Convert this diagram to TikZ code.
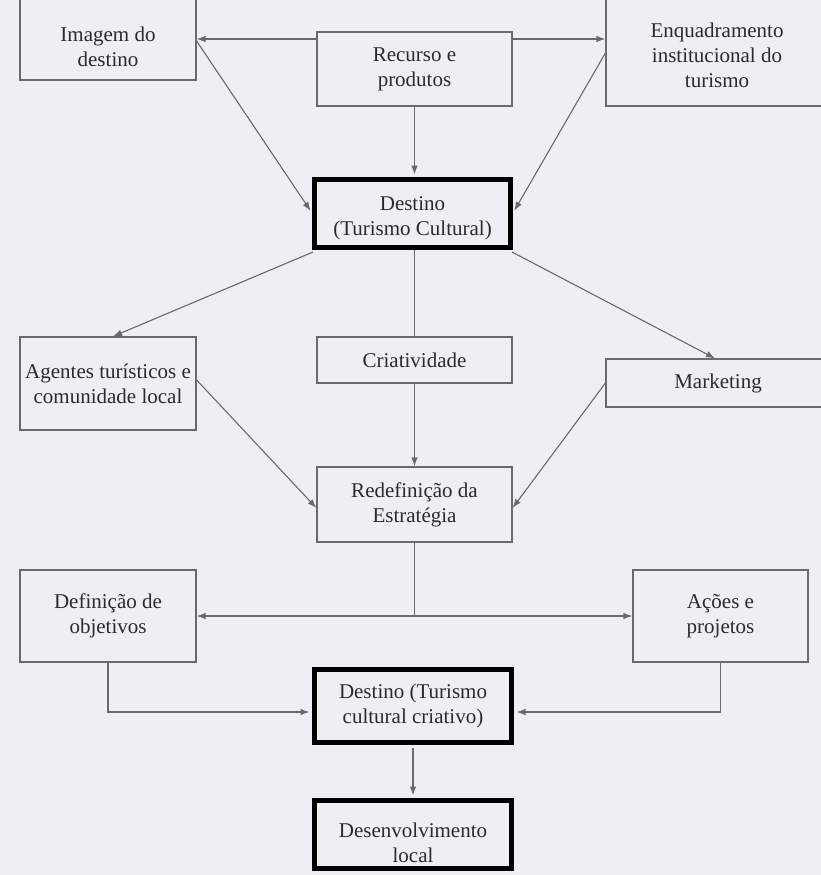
\documentclass[tikz,border=0pt]{standalone}
\usepackage{fontspec}
\setmainfont{Liberation Serif}
\usetikzlibrary{arrows.meta}
\definecolor{bgc}{RGB}{237,239,245}
\definecolor{linec}{RGB}{105,105,110}
\definecolor{textc}{RGB}{42,42,48}
\begin{document}
\begin{tikzpicture}[x=1pt,y=-1pt,
  box/.style={draw=linec, line width=1.2pt, fill=bgc, inner sep=0pt, text=textc, font=\fontsize{21}{25}\selectfont, align=center},
  thickbox/.style={box, draw=black, line width=5pt},
  txt/.style={text=textc, font=\fontsize{21}{25}\selectfont, align=center, inner sep=0pt},
  arr/.style={draw=linec, line width=1.1pt, -{Latex[length=9pt,width=6.5pt]}},
  ln/.style={draw=linec, line width=1.1pt}]
\clip (0,0) rectangle (821,875);
\fill[bgc] (0,0) rectangle (821,875);

% boxes
\node[box, minimum width=176pt, minimum height=100pt] (img) at (108,30) {};
\node[txt] (imgt) at (108,47) {Imagem do\\destino};
\node[box, minimum width=195pt, minimum height=74pt] (rec) at (414.5,69) {Recurso e\\produtos};
\node[box, minimum width=230pt, minimum height=126pt] (enq) at (721,43) {};
\node[txt] (enqt) at (717,55) {Enquadramento\\institucional do\\turismo};
\node[thickbox, minimum width=196pt, minimum height=68pt] (d1) at (412.5,213.5) {};
\node[txt] (d1t) at (412.5,218) {Destino\\(Turismo Cultural)};
\node[box, minimum width=176pt, minimum height=93pt] (agt) at (108,383.5) {Agentes turísticos e\\comunidade local};
\node[box, minimum width=195pt, minimum height=46pt] (cri) at (414.5,360) {Criatividade};
\node[box, minimum width=230pt, minimum height=48pt] (mkt) at (721,383) {};
\node[txt] (mktt) at (718,383) {Marketing};
\node[box, minimum width=195pt, minimum height=75pt] (red) at (414.5,504.5) {Redefinição da\\Estratégia};
\node[box, minimum width=176pt, minimum height=92pt] (def) at (108,616) {Definição de\\objetivos};
\node[box, minimum width=175pt, minimum height=92pt] (aco) at (720.5,616) {Ações e\\projetos};
\node[thickbox, minimum width=197pt, minimum height=73pt] (d2) at (413,706) {Destino (Turismo\\cultural criativo)};
\node[thickbox, minimum width=197pt, minimum height=68pt] (dev) at (413,834.5) {};
\node[txt] (devt) at (413,843) {Desenvolvimento\\local};

% helper levels
\coordinate (ya) at (0,39);
\coordinate (yb) at (0,41);
\coordinate (yc) at (0,213);
\coordinate (yd) at (0,53);
\coordinate (ye) at (0,380);
\coordinate (yf) at (0,508);
\coordinate (yg) at (0,383);
\coordinate (yh) at (0,712);
\coordinate (j) at (414.5,616);

% connectors
\draw[arr] (rec.west |- ya) -- (img.east |- ya);
\draw[arr] (rec.east |- ya) -- (enq.west |- ya);
\draw[arr, shorten >=2.5pt] (rec.south) -- (rec.south |- d1.north);
\draw[arr, shorten >=2.5pt] (img.east |- yb) -- (d1.west |- yc);
\draw[arr, shorten >=2.5pt] (enq.west |- yd) -- (d1.east |- yc);
\draw[arr] ([xshift=1pt,yshift=-2pt]d1.south west) -- ([xshift=5pt]agt.north);
\draw[ln] (cri.north |- d1.south) -- (cri.north);
\draw[arr] ([xshift=-1pt,yshift=-2pt]d1.south east) -- ([xshift=-6pt]mkt.north);
\draw[arr] (cri.south) -- (red.north);
\draw[arr] (agt.east |- ye) -- (red.west |- yf);
\draw[arr] (mkt.west |- yg) -- (red.east |- yf);
\draw[ln] (red.south) -- (j);
\draw[arr] (j) -- (def.east);
\draw[arr] (j) -- (aco.west);
\draw[arr, shorten >=2.5pt] (def.south) |- (d2.west |- yh);
\draw[arr, shorten >=2.5pt] (aco.south) |- (d2.east |- yh);
\draw[arr, shorten >=2.5pt, shorten <=2.5pt] (d2.south) -- (dev.north);
\end{tikzpicture}
\end{document}
